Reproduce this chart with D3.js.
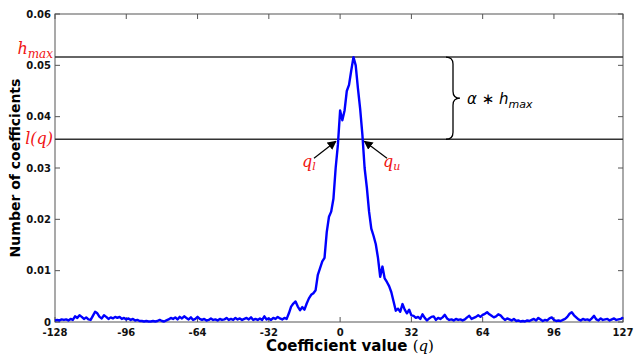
<!DOCTYPE html>
<html>
<head>
<meta charset="utf-8">
<script src="https://cdn.jsdelivr.net/npm/d3@7"></script>
<style>
  body { margin: 0; background: #fff; }
  text { font-family: "DejaVu Sans", sans-serif; }
  .math { font-family: "DejaVu Serif", "Liberation Serif", serif; font-style: italic; }
</style>
</head>
<body>
<svg width="635" height="356"></svg>
<script>
// coefficient histogram, q = -128 .. 127
const qMin = -128;
const counts = [
  // -128 .. -89
  0.0003, 0.0004, 0.0003, 0.0005, 0.0004, 0.0005, 0.0003, 0.0006, 0.0004, 0.0011,
  0.0008, 0.0013, 0.0010, 0.0006, 0.0009, 0.0005, 0.0004, 0.0012, 0.0020, 0.0017,
  0.0010, 0.0007, 0.0013, 0.0010, 0.0006, 0.0009, 0.0007, 0.0010, 0.0008, 0.0010,
  0.0006, 0.0008, 0.0005, 0.0007, 0.0004, 0.0006, 0.0003, 0.0004, 0.0002, 0.0002,
  // -88 .. -49
  0.0001, 0.0002, 0.0001, 0.0001, 0.0002, 0.0001, 0.0002, 0.0004, 0.0002, 0.0001,
  0.0003, 0.0005, 0.0008, 0.0006, 0.0009, 0.0005, 0.0010, 0.0007, 0.0011, 0.0008,
  0.0005, 0.0009, 0.0004, 0.0006, 0.0010, 0.0006, 0.0004, 0.0006, 0.0003, 0.0004,
  0.0007, 0.0004, 0.0005, 0.0003, 0.0006, 0.0004, 0.0005, 0.0008, 0.0004, 0.0006,
  // -48 .. -25
  0.0004, 0.0008, 0.0005, 0.0007, 0.0004, 0.0006, 0.0008, 0.0005, 0.0009, 0.0004,
  0.0006, 0.0004, 0.0007, 0.0004, 0.0011, 0.0005, 0.0007, 0.0004, 0.0008, 0.0006,
  0.0010, 0.0007, 0.0005, 0.0008,
  // -24 .. -1
  0.0006, 0.0017, 0.0030, 0.0036, 0.0040, 0.0030, 0.0023, 0.0029, 0.0024, 0.0036,
  0.0046, 0.0053, 0.0056, 0.0062, 0.0092, 0.0105, 0.0118, 0.0125, 0.0175, 0.0205,
  0.0215, 0.0240, 0.0300, 0.0345,
  // 0 .. 19
  0.0412, 0.0393, 0.0412, 0.0450, 0.0462, 0.0490, 0.0516, 0.0500, 0.0455, 0.0415,
  0.0365, 0.0300, 0.0262, 0.0215, 0.0182, 0.0168, 0.0152, 0.0125, 0.0088, 0.0108,
  // 20 .. 32
  0.0085, 0.0078, 0.0070, 0.0058, 0.0040, 0.0022, 0.0026, 0.0020, 0.0035, 0.0024,
  0.0017, 0.0024, 0.0013,
  // 33 .. 127
  0.0012, 0.0008, 0.0010, 0.0006, 0.0015, 0.0008, 0.0003, 0.0007, 0.0010, 0.0011,
  0.0004, 0.0008, 0.0006, 0.0009, 0.0014, 0.0007, 0.0004, 0.0005, 0.0003, 0.0006,
  0.0004, 0.0005, 0.0003, 0.0005, 0.0009, 0.0012, 0.0006, 0.0008, 0.0010, 0.0013,
  0.0010, 0.0014, 0.0016, 0.0019, 0.0015, 0.0012, 0.0009, 0.0011, 0.0015, 0.0013,
  0.0008, 0.0004, 0.0007, 0.0005, 0.0003, 0.0006, 0.0002, 0.0003, 0.0001, 0.0002,
  0.0001, 0.0003, 0.0002, 0.0004, 0.0006, 0.0003, 0.0008, 0.0005, 0.0002, 0.0004,
  0.0003, 0.0007, 0.0009, 0.0004, 0.0002, 0.0003, 0.0002, 0.0004, 0.0006, 0.0010,
  0.0016, 0.0019, 0.0013, 0.0009, 0.0005, 0.0003, 0.0006, 0.0004, 0.0005, 0.0003,
  0.0007, 0.0012, 0.0005, 0.0003, 0.0007, 0.0004, 0.0005, 0.0006, 0.0003, 0.0005,
  0.0007, 0.0004, 0.0005, 0.0006, 0.0009
];

const xTicks = [-128, -96, -64, -32, 0, 32, 64, 96, 127];
const yTicks = [0, 0.01, 0.02, 0.03, 0.04, 0.05, 0.06];
const yTickLabels = ["0", "0.01", "0.02", "0.03", "0.04", "0.05", "0.06"];

// annotation values
const alpha = 0.31;
const qLower = -1;   // where the arrows point
const qUpper = 10;

const svg = d3.select("svg");

// plot box
const boxL = 55, boxR = 623, boxT = 14, boxB = 322;

const x = d3.scaleLinear().domain([-128, 127]).range([boxL, boxR]);
const y = d3.scaleLinear().domain([0, 0.06]).range([boxB, boxT]);

const points = counts.map((v, i) => ({ q: qMin + i, v: v }));
const hmax = d3.max(counts);
const lq = hmax * (1 - alpha);

// box
svg.append("rect")
  .attr("x", boxL).attr("y", boxT)
  .attr("width", boxR - boxL).attr("height", boxB - boxT)
  .attr("fill", "none").attr("stroke", "#555").attr("stroke-width", 1);

// ticks (inside, all four sides)
const tickLen = 5;
const g = svg.append("g").attr("stroke", "#555").attr("stroke-width", 1);
yTicks.forEach(t => {
  g.append("line").attr("x1", boxL).attr("x2", boxL + tickLen).attr("y1", y(t)).attr("y2", y(t));
  g.append("line").attr("x1", boxR).attr("x2", boxR - tickLen).attr("y1", y(t)).attr("y2", y(t));
});
xTicks.forEach(t => {
  g.append("line").attr("x1", x(t)).attr("x2", x(t)).attr("y1", boxB).attr("y2", boxB - tickLen);
  g.append("line").attr("x1", x(t)).attr("x2", x(t)).attr("y1", boxT).attr("y2", boxT + tickLen);
});

// tick labels
svg.append("g").selectAll("text").data(yTicks).join("text")
  .attr("x", boxL - 4).attr("y", d => y(d))
  .attr("dy", "0.35em")
  .attr("text-anchor", "end")
  .attr("font-size", 10).attr("font-weight", "bold").attr("fill", "#111")
  .text((d, i) => yTickLabels[i]);

svg.append("g").selectAll("text").data(xTicks).join("text")
  .attr("x", d => x(d)).attr("y", boxB + 14)
  .attr("text-anchor", "middle")
  .attr("font-size", 10).attr("font-weight", "bold").attr("fill", "#111")
  .text(d => d);

// axis titles
svg.append("text")
  .attr("transform", `translate(20,${(boxT + boxB) / 2}) rotate(-90)`)
  .attr("text-anchor", "middle")
  .attr("font-size", 14).attr("font-weight", "bold").attr("fill", "#000")
  .text("Number of coefficients");

const xl = svg.append("text")
  .attr("x", (boxL + boxR) / 2 + 11).attr("y", 351)
  .attr("text-anchor", "middle")
  .attr("font-size", 15).attr("fill", "#000");
xl.append("tspan").attr("font-weight", "bold").text("Coefficient value ");
xl.append("tspan").attr("font-family", "DejaVu Serif, serif").text("(");
xl.append("tspan").attr("class", "math").text("q");
xl.append("tspan").attr("font-family", "DejaVu Serif, serif").text(")");

// hmax and l(q) lines
svg.append("line")
  .attr("x1", boxL).attr("x2", boxR).attr("y1", y(hmax)).attr("y2", y(hmax))
  .attr("stroke", "#333").attr("stroke-width", 1.5);
svg.append("line")
  .attr("x1", boxL).attr("x2", boxR).attr("y1", y(lq)).attr("y2", y(lq))
  .attr("stroke", "#333").attr("stroke-width", 1.5);

// the curve
const line = d3.line()
  .x(d => x(d.q))
  .y(d => y(d.v));
svg.append("path")
  .attr("d", line(points))
  .attr("fill", "none")
  .attr("stroke", "#0000ff")
  .attr("stroke-width", 2.4)
  .attr("stroke-linejoin", "round");

// red labels left of the axis
const red = "#f01414";
const hl = svg.append("text").attr("class", "math")
  .attr("x", boxL - 2).attr("y", y(hmax) - 3)
  .attr("text-anchor", "end").attr("fill", red).attr("font-size", 16);
hl.append("tspan").text("h");
hl.append("tspan").attr("font-size", 12).attr("dy", 4).text("max");

svg.append("text").attr("class", "math")
  .attr("x", boxL - 2).attr("y", y(lq) + 5)
  .attr("text-anchor", "end").attr("fill", red).attr("font-size", 16)
  .text("l(q)");

// arrows for q_l and q_u
svg.append("defs").append("marker")
  .attr("id", "head")
  .attr("viewBox", "0 0 10 10")
  .attr("refX", 9).attr("refY", 5)
  .attr("markerWidth", 9).attr("markerHeight", 9)
  .attr("markerUnits", "userSpaceOnUse")
  .attr("orient", "auto")
  .append("path").attr("d", "M0,0 L10,5 L0,10 z").attr("fill", "#000");

const yl = y(lq);
svg.append("line")
  .attr("x1", 314).attr("y1", yl + 19)
  .attr("x2", x(qLower) - 2).attr("y2", yl + 2)
  .attr("stroke", "#000").attr("stroke-width", 1.2)
  .attr("marker-end", "url(#head)");
svg.append("line")
  .attr("x1", 387).attr("y1", yl + 19)
  .attr("x2", x(qUpper) + 2).attr("y2", yl + 2)
  .attr("stroke", "#000").attr("stroke-width", 1.2)
  .attr("marker-end", "url(#head)");

const ql = svg.append("text").attr("class", "math")
  .attr("x", 302).attr("y", yl + 28).attr("fill", red).attr("font-size", 16);
ql.append("tspan").text("q");
ql.append("tspan").attr("font-size", 11).attr("dy", 3).text("l");

const qu = svg.append("text").attr("class", "math")
  .attr("x", 383).attr("y", yl + 28).attr("fill", red).attr("font-size", 16);
qu.append("tspan").text("q");
qu.append("tspan").attr("font-size", 11).attr("dy", 3).text("u");

// brace between the two lines
function bracePath(bx, y1, y2, w, r) {
  const ym = (y1 + y2) / 2;
  const xm = bx + w / 2;
  return `M${bx},${y1} Q${xm},${y1} ${xm},${y1 + r} L${xm},${ym - r} ` +
         `Q${xm},${ym} ${bx + w},${ym} Q${xm},${ym} ${xm},${ym + r} ` +
         `L${xm},${y2 - r} Q${xm},${y2} ${bx},${y2}`;
}
svg.append("path")
  .attr("d", bracePath(446, y(hmax), y(lq), 14, 7))
  .attr("fill", "none").attr("stroke", "#000").attr("stroke-width", 1.3);

const al = svg.append("text")
  .attr("x", 467).attr("y", (y(hmax) + y(lq)) / 2 + 6)
  .attr("font-size", 15).attr("fill", "#000")
  .attr("font-family", "DejaVu Serif, serif");
al.append("tspan").attr("font-style", "italic").text("α");
al.append("tspan").text(" ∗ ");
al.append("tspan").attr("font-style", "italic").text("h");
al.append("tspan").attr("font-style", "italic").attr("font-size", 11).attr("dy", 4).text("max");
</script>
</body>
</html>
